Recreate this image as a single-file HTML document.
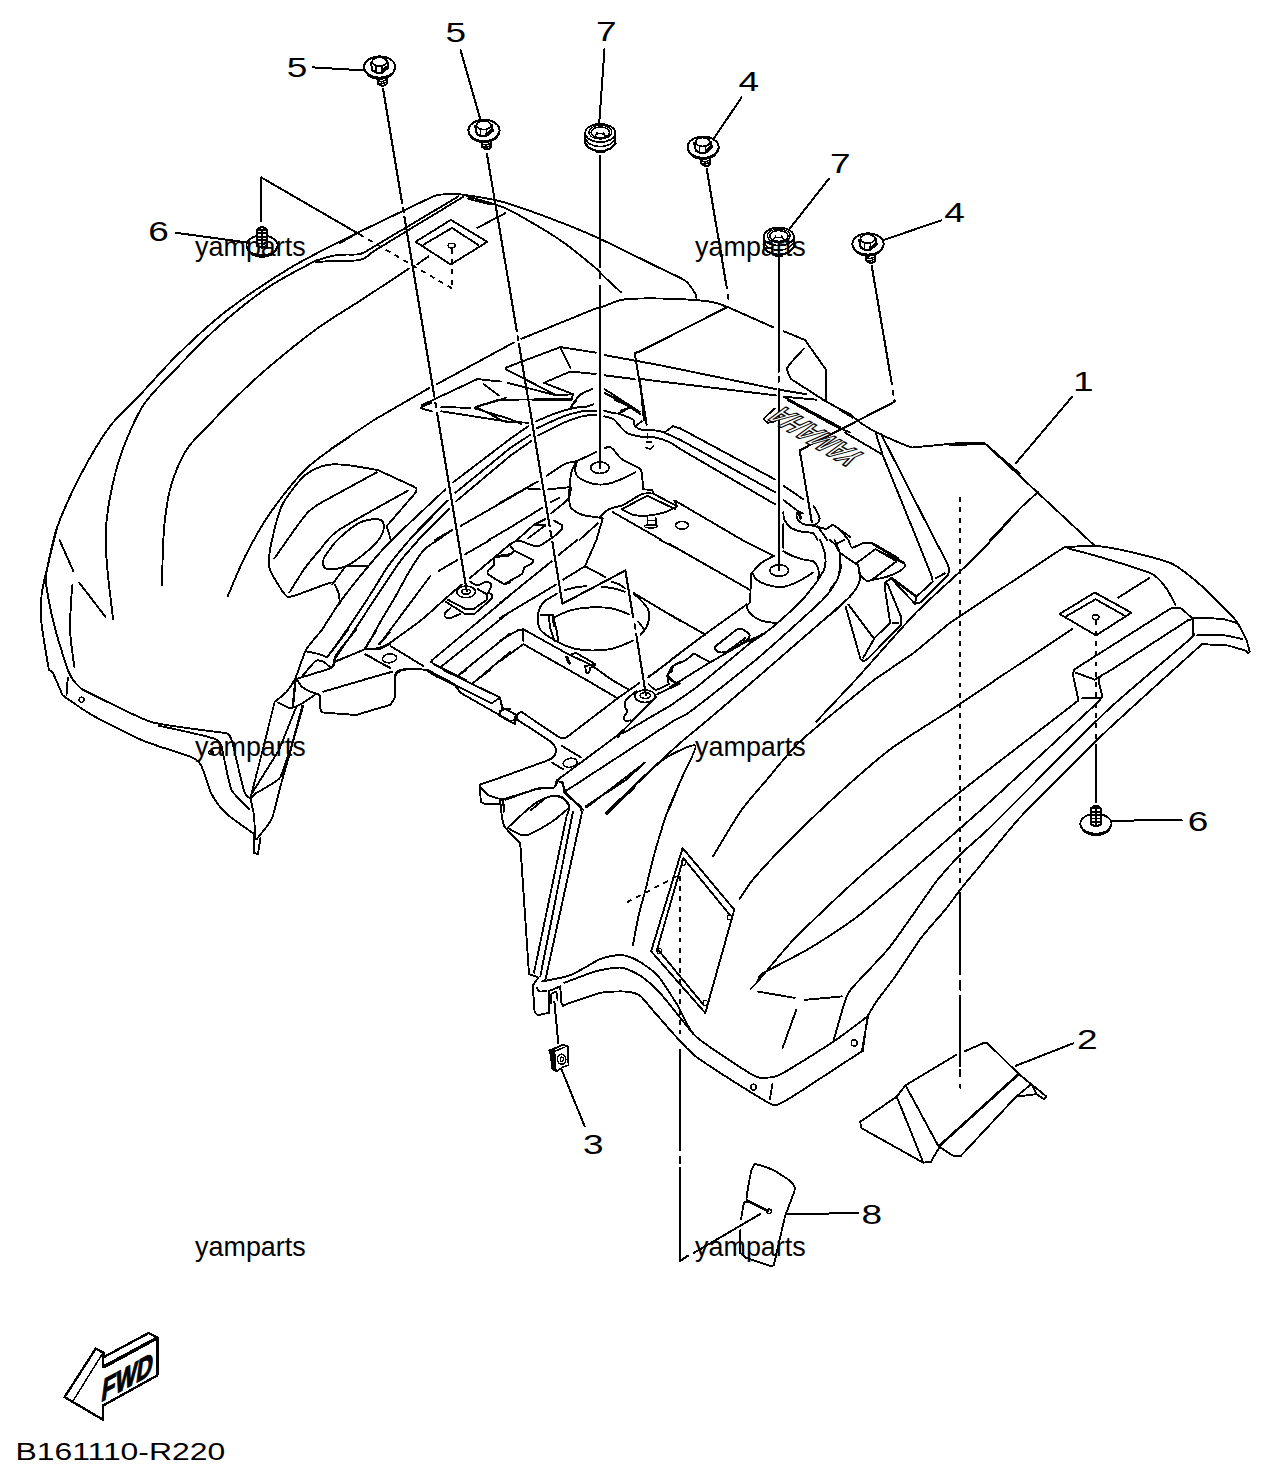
<!DOCTYPE html>
<html><head><meta charset="utf-8"><title>B161110-R220</title>
<style>
html,body{margin:0;padding:0;background:#fff;}
svg{display:block;}
text{font-family:"Liberation Sans",sans-serif;fill:#000;}
</style></head>
<body>
<svg width="1270" height="1483" viewBox="0 0 1270 1483">
<rect width="1270" height="1483" fill="#fff"/>
<g fill="none" stroke="#000" stroke-width="1.9" stroke-linecap="round" stroke-linejoin="round" shape-rendering="crispEdges">
<text transform="matrix(1.3603 0 0 1 286.8 77.3)" font-size="27.2" stroke="none">5</text>
<text transform="matrix(1.3603 0 0 1 445.6 42.2)" font-size="27.2" stroke="none">5</text>
<text transform="matrix(1.3603 0 0 1 596 40.8)" font-size="27.2" stroke="none">7</text>
<text transform="matrix(1.3603 0 0 1 738.5 90.6)" font-size="27.2" stroke="none">4</text>
<text transform="matrix(1.3603 0 0 1 830 172.8)" font-size="27.2" stroke="none">7</text>
<text transform="matrix(1.3603 0 0 1 944.2 221.5)" font-size="27.2" stroke="none">4</text>
<text transform="matrix(1.3603 0 0 1 1073 391)" font-size="27.2" stroke="none">1</text>
<text transform="matrix(1.3603 0 0 1 148.3 241.4)" font-size="27.2" stroke="none">6</text>
<text transform="matrix(1.3603 0 0 1 1187.8 830.6)" font-size="27.2" stroke="none">6</text>
<text transform="matrix(1.3603 0 0 1 1077 1049.2)" font-size="27.2" stroke="none">2</text>
<text transform="matrix(1.3603 0 0 1 861.6 1224.4)" font-size="27.2" stroke="none">8</text>
<text transform="matrix(1.3603 0 0 1 583 1153.8)" font-size="27.2" stroke="none">3</text>
<text transform="matrix(1.3292 0 0 1 15.4 1460.3)" font-size="24" stroke="none">B161110-R220</text>
<path d="M312.8 67.4 L364.2 70.4" stroke-width="2"/>
<path d="M460.6 50.4 L480.4 119.6" stroke-width="2"/>
<path d="M604.5 49.1 L599.2 123.6" stroke-width="2"/>
<path d="M741.5 97.5 L714.3 137.8" stroke-width="2"/>
<path d="M828.9 178.8 L789.9 228.4" stroke-width="2"/>
<path d="M941 220.4 L883.8 240" stroke-width="2"/>
<path d="M1072.2 396.7 L1016 463" stroke-width="2"/>
<path d="M176 232.8 L250.8 243" stroke-width="2"/>
<path d="M1111.7 820.6 L1181.7 820.3" stroke-width="2"/>
<path d="M1073.5 1043.2 L1015.6 1065.9" stroke-width="2"/>
<path d="M857.8 1213.1 L787.3 1214.1" stroke-width="2"/>
<path d="M584.7 1126.4 L560.5 1066.9" stroke-width="2"/>
<ellipse cx="379.7" cy="67" rx="15.6" ry="10.6" fill="#fff" stroke="#000" stroke-width="2.0"/>
<path d="M364.5 68.5 C365.2 69.7 366.2 73.9 368.7 75.6 C371.2 77.3 376 78.9 379.7 78.9 C383.4 78.9 388.2 77.3 390.7 75.6 C393.2 73.9 394.2 69.7 394.9 68.5" stroke-width="1.8"/>
<path d="M370.8 62.8 L372.5 70.6 L376.2 72.6 L381.9 72.8 L388.5 67.4 L387.3 61.4" stroke-width="2.1"/>
<path d="M376.1 66.4 L376.2 72.6" stroke-width="1.6"/>
<path d="M382.1 66.8 L381.9 72.8" stroke-width="1.6"/>
<path d="M383.2 69.8 L386.7 66.4" stroke-width="1.6"/>
<ellipse cx="379.4" cy="61.8" rx="7.2" ry="4.4" fill="#fff" stroke="#000" stroke-width="1.7"/>
<path d="M377.1 77.6 L378.1 83.8 L381.3 85.8 L385.3 85.4 L387.1 83.2 L386.3 76.6" stroke-width="2"/>
<path d="M377.7 80.4 L381.7 81.8 L386.7 79.8" stroke-width="1.5"/>
<path d="M378 83 L381.7 84 L386.9 82" stroke-width="1.5"/>
<ellipse cx="484" cy="130.4" rx="15.6" ry="10.6" fill="#fff" stroke="#000" stroke-width="2.0"/>
<path d="M468.8 131.9 C469.5 133.1 470.5 137.3 473 139 C475.5 140.7 480.3 142.3 484 142.3 C487.7 142.3 492.5 140.7 495 139 C497.5 137.3 498.5 133.1 499.2 131.9" stroke-width="1.8"/>
<path d="M475.1 126.2 L476.8 134 L480.5 136 L486.2 136.2 L492.8 130.8 L491.6 124.8" stroke-width="2.1"/>
<path d="M480.4 129.8 L480.5 136" stroke-width="1.6"/>
<path d="M486.4 130.2 L486.2 136.2" stroke-width="1.6"/>
<path d="M487.5 133.2 L491 129.8" stroke-width="1.6"/>
<ellipse cx="483.7" cy="125.2" rx="7.2" ry="4.4" fill="#fff" stroke="#000" stroke-width="1.7"/>
<path d="M481.4 141 L482.4 147.2 L485.6 149.2 L489.6 148.8 L491.4 146.6 L490.6 140" stroke-width="2"/>
<path d="M482 143.8 L486 145.2 L491 143.2" stroke-width="1.5"/>
<path d="M482.3 146.4 L486 147.4 L491.2 145.4" stroke-width="1.5"/>
<ellipse cx="703.1" cy="147.2" rx="15.6" ry="10.6" fill="#fff" stroke="#000" stroke-width="2.0"/>
<path d="M687.9 148.7 C688.6 149.9 689.6 154.1 692.1 155.8 C694.6 157.5 699.4 159.1 703.1 159.1 C706.8 159.1 711.6 157.5 714.1 155.8 C716.6 154.1 717.6 149.9 718.3 148.7" stroke-width="1.8"/>
<path d="M694.2 143 L695.9 150.8 L699.6 152.8 L705.3 153 L711.9 147.6 L710.7 141.6" stroke-width="2.1"/>
<path d="M699.5 146.6 L699.6 152.8" stroke-width="1.6"/>
<path d="M705.5 147 L705.3 153" stroke-width="1.6"/>
<path d="M706.6 150 L710.1 146.6" stroke-width="1.6"/>
<ellipse cx="702.8" cy="142" rx="7.2" ry="4.4" fill="#fff" stroke="#000" stroke-width="1.7"/>
<path d="M700.5 157.8 L701.5 164 L704.7 166 L708.7 165.6 L710.5 163.4 L709.7 156.8" stroke-width="2"/>
<path d="M701.1 160.6 L705.1 162 L710.1 160" stroke-width="1.5"/>
<path d="M701.4 163.2 L705.1 164.2 L710.3 162.2" stroke-width="1.5"/>
<ellipse cx="868" cy="244" rx="15.6" ry="10.6" fill="#fff" stroke="#000" stroke-width="2.0"/>
<path d="M852.8 245.5 C853.5 246.7 854.5 250.9 857 252.6 C859.5 254.3 864.3 255.9 868 255.9 C871.7 255.9 876.5 254.3 879 252.6 C881.5 250.9 882.5 246.7 883.2 245.5" stroke-width="1.8"/>
<path d="M859.1 239.8 L860.8 247.6 L864.5 249.6 L870.2 249.8 L876.8 244.4 L875.6 238.4" stroke-width="2.1"/>
<path d="M864.4 243.4 L864.5 249.6" stroke-width="1.6"/>
<path d="M870.4 243.8 L870.2 249.8" stroke-width="1.6"/>
<path d="M871.5 246.8 L875 243.4" stroke-width="1.6"/>
<ellipse cx="867.7" cy="238.8" rx="7.2" ry="4.4" fill="#fff" stroke="#000" stroke-width="1.7"/>
<path d="M865.4 254.6 L866.4 260.8 L869.6 262.8 L873.6 262.4 L875.4 260.2 L874.6 253.6" stroke-width="2"/>
<path d="M866 257.4 L870 258.8 L875 256.8" stroke-width="1.5"/>
<path d="M866.3 260 L870 261 L875.2 259" stroke-width="1.5"/>
<path d="M585.2 133 L585.2 143.4" stroke-width="2"/>
<path d="M615.4 133 L615.4 143.4" stroke-width="2"/>
<path d="M585.2 143.4 C586 144.3 587.8 147.3 590.3 148.6 C592.8 149.9 597 151.2 600.3 151.2 C603.6 151.2 607.8 149.9 610.3 148.6 C612.8 147.3 614.5 144.3 615.4 143.4" stroke-width="2.2"/>
<path d="M585.2 138.6 C586 139.5 587.8 142.9 590.3 144.2 C592.8 145.5 597 146.6 600.3 146.6 C603.6 146.6 607.8 145.5 610.3 144.2 C612.8 142.9 614.5 139.5 615.4 138.6" stroke-width="1.6"/>
<path d="M596.7 150.6 L596.9 152.4 L603.7 152.4 L603.9 150.6" stroke-width="1.7"/>
<ellipse cx="600.3" cy="133" rx="15.1" ry="9.1" fill="#fff" stroke="#000" stroke-width="1.8"/>
<ellipse cx="600.3" cy="132.2" rx="11.4" ry="6.9" fill="none" stroke="#000" stroke-width="1.2"/>
<ellipse cx="600.3" cy="132.4" rx="9.2" ry="5.4" fill="none" stroke="#000" stroke-width="1.5"/>
<ellipse cx="600" cy="136" rx="4.9" ry="2.4" fill="none" stroke="#000" stroke-width="1.4"/>
<path d="M595.3 135.6 L597.1 132.4" stroke-width="1.4"/>
<path d="M604.9 135.6 L603.3 132.4" stroke-width="1.4"/>
<path d="M763.7 236.6 L763.7 247" stroke-width="2"/>
<path d="M793.9 236.6 L793.9 247" stroke-width="2"/>
<path d="M763.7 247 C764.5 247.9 766.3 250.9 768.8 252.2 C771.3 253.5 775.5 254.8 778.8 254.8 C782.1 254.8 786.3 253.5 788.8 252.2 C791.3 250.9 793 247.9 793.9 247" stroke-width="2.2"/>
<path d="M763.7 242.2 C764.5 243.1 766.3 246.5 768.8 247.8 C771.3 249.1 775.5 250.2 778.8 250.2 C782.1 250.2 786.3 249.1 788.8 247.8 C791.3 246.5 793 243.1 793.9 242.2" stroke-width="1.6"/>
<path d="M775.2 254.2 L775.4 256 L782.2 256 L782.4 254.2" stroke-width="1.7"/>
<ellipse cx="778.8" cy="236.6" rx="15.1" ry="9.1" fill="#fff" stroke="#000" stroke-width="1.8"/>
<ellipse cx="778.8" cy="235.8" rx="11.4" ry="6.9" fill="none" stroke="#000" stroke-width="1.2"/>
<ellipse cx="778.8" cy="236" rx="9.2" ry="5.4" fill="none" stroke="#000" stroke-width="1.5"/>
<ellipse cx="778.5" cy="239.6" rx="4.9" ry="2.4" fill="none" stroke="#000" stroke-width="1.4"/>
<path d="M773.8 239.2 L775.6 236" stroke-width="1.4"/>
<path d="M783.4 239.2 L781.8 236" stroke-width="1.4"/>
<ellipse cx="262" cy="245.4" rx="15.6" ry="10" fill="#fff" stroke="#000" stroke-width="1.8"/>
<path d="M246.8 247 C247.5 248.1 248.5 252 251 253.6 C253.5 255.2 258.3 256.8 262 256.8 C265.7 256.8 270.5 255.2 273 253.6 C275.5 252 276.5 248.1 277.2 247" stroke-width="2"/>
<path d="M257.2 245.9 L257.2 229.9 Q262 224.4 266.8 229.9 L266.8 245.9 Q262 249.4 257.2 245.9Z" fill="#fff" stroke="#000" stroke-width="2.2"/>
<path d="M258.4 229.9 L265.6 229.9"/>
<path d="M258.4 233.3 L265.6 233.3"/>
<path d="M258.4 236.7 L265.6 236.7"/>
<path d="M258.4 240.1 L265.6 240.1"/>
<path d="M258.4 243.5 L265.6 243.5"/>
<path d="M262 231.4 L262 246.4" stroke-width="1.6"/>
<ellipse cx="1095.9" cy="823.8" rx="15.6" ry="10" fill="#fff" stroke="#000" stroke-width="1.8"/>
<path d="M1080.7 825.4 C1081.4 826.5 1082.4 830.4 1084.9 832 C1087.4 833.6 1092.2 835.2 1095.9 835.2 C1099.6 835.2 1104.4 833.6 1106.9 832 C1109.4 830.4 1110.4 826.5 1111.1 825.4" stroke-width="2"/>
<path d="M1091.1 824.3 L1091.1 808.3 Q1095.9 802.8 1100.7 808.3 L1100.7 824.3 Q1095.9 827.8 1091.1 824.3Z" fill="#fff" stroke="#000" stroke-width="2.2"/>
<path d="M1092.3 808.3 L1099.5 808.3"/>
<path d="M1092.3 811.7 L1099.5 811.7"/>
<path d="M1092.3 815.1 L1099.5 815.1"/>
<path d="M1092.3 818.5 L1099.5 818.5"/>
<path d="M1092.3 821.9 L1099.5 821.9"/>
<path d="M1095.9 809.8 L1095.9 824.8" stroke-width="1.6"/>
<path d="M383 88.5 L402.2 203.5" stroke-width="2.1"/>
<path d="M402.9 208 L403.6 212" stroke-width="2.1"/>
<path d="M404.4 217 L434.4 397" stroke-width="2.1"/>
<path d="M435.4 403 L436.1 407" stroke-width="2.1"/>
<path d="M437.1 413 L466.8 591" stroke-width="2.1"/>
<path d="M486.9 153.7 L516.8 331" stroke-width="2.1"/>
<path d="M517.6 336 L518.3 340" stroke-width="2.1"/>
<path d="M518.9 344 L549.6 526" stroke-width="2.1"/>
<path d="M550.4 531 L551.3 536" stroke-width="2.1"/>
<path d="M600.2 156 L600.2 267" stroke-width="2.4"/>
<path d="M600.2 273 L600.2 278" stroke-width="2.4"/>
<path d="M600.2 286 L600.2 468" stroke-width="2.4"/>
<path d="M261.2 221.5 L261.2 177.4 L359.5 234.3" stroke-width="2"/>
<path d="M359.5 234.3 L452 288.4" stroke-width="1.8" stroke-dasharray="5 5.2" stroke-linecap="butt"/>
<path d="M451.6 249 L451.6 288.4" stroke-width="1.8" stroke-dasharray="5 5.2" stroke-linecap="butt"/>
<path d="M360 231.6 C348.6 237.5 314.2 253.7 291.9 266.9 C269.6 280.1 245.3 296.5 226.4 311 C207.5 325.5 192.8 339.9 178.5 353.8 C164.2 367.7 152.3 381.9 140.8 394.1 C129.3 406.3 119.6 413.4 109.5 427 C99.4 440.6 89 458.9 80.4 475.4 C71.8 491.9 63.2 510.7 57.7 525.8 C52.2 540.9 50.3 554.6 47.6 566.1 C44.9 577.6 42.7 585.8 41.6 595 C40.5 604.2 40.1 609 41.3 621.5 C42.5 634 47.6 661.9 48.9 670"/>
<path d="M315.8 260.6 C307.6 265.2 283.3 277 266.7 288.3 C250.1 299.6 232.2 314.3 216.3 328.6 C200.4 342.9 182.8 361.8 171 374 C159.2 386.2 152.3 392.9 145.8 401.7 C139.3 410.5 136.6 416.8 132 427 C127.4 437.2 122.2 449.3 118.2 462.8 C114.2 476.3 110.2 495.2 108.1 508.2 C106 521.2 105.6 529.6 105.6 540.9 C105.6 552.2 106.8 563.2 108.1 576.2 C109.3 589.2 112.3 611.9 113.1 619"/>
<path d="M360 300.9 C352.9 305.5 332.7 317.3 317.1 328.6 C301.6 339.9 281 356.7 266.7 368.9 C252.4 381.1 241 392.3 231.4 401.7 C221.8 411.1 216.5 416.9 209 425 C201.5 433.1 192.5 440.1 186.2 450.2 C179.9 460.3 174.7 473.7 171.1 485.5 C167.5 497.3 166.2 509 164.8 520.8 C163.4 532.5 163.1 545.3 162.7 556 C162.3 566.7 162.3 580.2 162.2 585"/>
<path d="M340 243 L360 231.6 L430 197.9"/>
<path d="M430 197.9 C430.9 197.5 434.7 195.7 437 195.2 C439.3 194.7 443.8 194.3 447 194.2 C450.2 194.1 453.7 193.4 460.9 194.4 C468.1 195.4 489.5 198.4 501.2 201.5 C512.9 204.6 536.2 213.1 549 217.9 C561.8 222.7 582.2 230.8 597 237.5 C611.8 244.2 648.2 262.4 660 268.2 C671.8 274 680.6 277.4 685.3 280.8 C690 284.2 693.9 291.4 695.4 294 C696.9 296.6 696.5 299.6 696.7 300.5"/>
<path d="M315.8 260.6 C319.4 259.7 330.2 256 337.2 255 C344.2 254 352.8 255 357.6 254.4 C362.4 253.8 362.6 253.2 366 251.5 C369.4 249.8 362.4 253.5 377.8 244.3 C393.2 235.1 445 204.4 458.4 196.4"/>
<path d="M315.8 262 C319.5 261.8 330.8 261.1 338 260.8 C345.2 260.5 353.9 261 358.9 260.2 C363.9 259.4 364.6 258 368 256 C371.4 254 363.1 257.9 379 248 C394.9 238.1 449.3 205.3 463.4 196.8"/>
<path d="M467.2 196.4 C472.9 198.1 492.2 203.1 501.2 206.5 C510.2 209.9 511.6 211 521.4 216.6 C531.2 222.2 547.8 231.6 560 240 C572.2 248.4 587.2 261 594.4 267 C601.6 273 598.8 271.6 603.2 275.8 C607.6 280 618 289.5 620.9 292.2"/>
<path d="M467.5 198.6 L491 204.6" stroke-width="1.7"/>
<path d="M360 300.9 L408.8 268.7"/>
<path d="M417.1 264.4 L428.5 256.5"/>
<path d="M477.3 227.9 L505 213.3"/>
<path d="M415.6 241.8 L450.8 219.9 L487.4 241.8 L450.8 264.5Z"/>
<path d="M423.6 244.6 L452.1 227.9 L478.5 245.2"/>
<ellipse cx="451.6" cy="245.6" rx="3.5" ry="2.4" fill="none" stroke="#000" stroke-width="1.4"/>
<path d="M604.5 306 L595.7 308.5 L521.4 338.8"/>
<path d="M513.8 342.5 L437 384.1"/>
<path d="M429.4 387.9 L374 420 L340 442.7"/>
<path d="M595.7 308.5 C597.2 308.1 599.7 307.5 604.5 306 C609.3 304.5 615.4 300.6 624.6 299.4 C633.9 298.1 649 298.4 660 298.5 C671 298.6 681.6 299.1 690.4 299.7 C699.2 300.3 706.7 300.9 713 302.2 C719.3 303.5 725.7 306.4 728.2 307.3"/>
<path d="M57.7 525.8 C57.1 528.3 55.7 533.3 53.9 540.9 C52.1 548.5 48 563.5 46.8 571.1 C45.5 578.7 45 576.5 46.4 586.2 C47.8 595.9 51.6 615.1 55.2 629.1 C58.8 643.1 65.7 663.2 67.8 670"/>
<path d="M59.7 540.4 L73.3 571.1"/>
<path d="M79.1 582.5 L105.6 617"/>
<path d="M72.3 585 C72 589.2 70.9 601.8 70.6 610 C70.3 618.2 69.7 624.8 70.3 634.1 C70.9 643.4 73.5 660.4 74.1 665.6"/>
<path d="M350 436.4 C342.9 441.6 320.1 455.5 307.1 467.9 C294.1 480.3 281.9 496.4 271.8 510.7 C261.7 525 253.9 539.2 246.6 553.5 C239.2 567.8 230.8 589.2 227.7 596.3"/>
<path d="M340 442.7 L330 449.6"/>
<path d="M431.3 402.6 C430.4 403.1 422.8 406.6 421.8 407.2 C420.8 407.8 420.4 408 421.4 408.4 C422.4 408.8 430.9 411 432 411.3"/>
<path d="M441.3 407.1 L470.3 407.8"/>
<path d="M441.3 411.3 L510 422 L528.3 422.7"/>
<path d="M475.3 407.1 L500.1 400 L506.2 397.5"/>
<path d="M475.3 408.5 L510 419.1 L521.3 424.1"/>
<path d="M378.2 470.2 L413.6 486.5"/>
<path d="M413.6 486.5 C414 486.8 416.1 487.9 416.4 488.6 C416.7 489.3 416.6 490.6 416.2 491.5 C415.8 492.4 413.9 494.5 413.6 495"/>
<path d="M413.6 495 L386.7 526.1"/>
<path d="M386.7 526.1 C387 527.1 388 529.9 388.6 532 C389.2 534.1 390.1 537.8 390.4 539"/>
<path d="M330 497.8 L376.8 472.3"/>
<path d="M407.9 490.7 C398.7 495.9 350.6 522.1 338.9 530 C327.2 537.9 324.5 544.7 320 549.8 C315.5 554.9 309.1 562.3 305 568 C300.9 573.7 291.5 589.2 289.4 592.5"/>
<path d="M329.5 549.8 C331.9 546.5 333.7 543.3 338.5 538.9 C343.3 534.5 352.6 526.6 358.3 523.3 C364 520 368.7 519.8 372.5 519.3 C376.3 518.8 379.1 519.1 381 520.2 C382.9 521.3 383.8 523.5 383.9 526.1 C384 528.7 383.2 532.4 381.4 535.7 C379.6 539 376.5 542.5 372.9 546.1 C369.3 549.7 363.8 554.2 359.7 557.4 C355.6 560.5 352.2 563.1 348.4 565 C344.6 566.9 340.6 568.2 337 568.8 C333.4 569.4 328.9 569.4 326.6 568.8 C324.3 568.2 323.8 566.7 323.3 565 C322.8 563.3 322.8 560.9 323.8 558.4 C324.8 555.9 327.1 553 329.5 549.8Z"/>
<path d="M445.5 489.3 C440.1 494.4 399.4 532.3 391.7 540 C384 547.7 373.3 560.3 368.2 566.4 C363.1 572.5 344.6 595.8 340.8 600.9 C337 606 331.1 615.6 330 617.2"/>
<path d="M409.4 540 L447.6 500.6"/>
<path d="M417.9 540 L449 509.1"/>
<path d="M453.3 482.2 L510 439 L528.3 426.2"/>
<path d="M455.4 492.8 L510 448.2 L530.5 434.7"/>
<path d="M456.1 501.3 L510 456 L531.2 441.1"/>
<path d="M460.4 526.1 L510 497.8 L537.6 481.5"/>
<path d="M434.9 540 L452.6 529.7"/>
<path d="M488.7 540 L510 527.6 L542.5 507.7"/>
<path d="M533.3 400.3 L570.9 400.3" stroke-width="2.2"/>
<path d="M570.9 407.1 L576.5 400"/>
<path d="M536.1 421.3 C539.5 419.9 550.2 415.1 556.7 412.8 C563.2 410.6 570.4 408.8 575.1 407.8 C579.8 406.9 581.9 407.7 585 407.1 C588.1 406.5 592.1 404.8 593.5 404.3"/>
<path d="M536.8 428.3 C541.3 426.3 556.2 419.1 563.8 416.3 C571.4 413.5 576.8 412.2 582.2 411.3 C587.6 410.4 594 410.7 596.4 410.6"/>
<path d="M538.3 435.4 C542.5 433.3 556.5 425.9 563.8 422.7 C571.1 419.5 576.8 417.6 582.2 416.3 C587.6 415 594 415.1 596.4 414.9"/>
<path d="M604.2 410.6 C606.4 411.1 613.7 413.9 617.6 413.5 C621.5 413.1 625.9 409.3 627.6 408.5"/>
<path d="M604.2 416.3 C605.7 416.8 610.7 417.3 613.4 419.1 C616.1 420.9 618.1 424.5 620.5 426.9 C622.9 429.3 624.1 431.6 627.6 433.3 C631.1 435 637 436.1 641.7 436.8 C646.4 437.5 651.2 436.7 655.9 437.6 C660.6 438.6 666.1 440.6 670.1 442.5 C674.1 444.4 678.4 447.8 680 448.9"/>
<path d="M617.6 413.5 C619.3 414.1 625 415.9 627.6 417 C630.2 418.1 632 418.4 633.2 419.8 C634.4 421.2 633.2 423.8 634.6 425.5 C636 427.2 638.2 429 641.7 429.8 C645.2 430.6 652.1 430 655.9 430.5 C659.7 431 663 432.2 664.4 432.6"/>
<path d="M664.4 432.6 L672.9 426.2 L680 428.3"/>
<path d="M664.4 432.6 L680 439.7"/>
<path d="M641.7 400 L646.7 424.8"/>
<path d="M647.4 434 L647.4 438.5" stroke-width="1.6"/>
<path d="M646.5 441.8 L651.6 441.8" stroke-width="1.6"/>
<path d="M646 447.5 C646.7 447.7 648.9 449.1 650.2 448.9 C651.5 448.6 653.2 446.5 653.8 446" stroke-width="1.6"/>
<path d="M614.8 400 C616.9 400.9 624 403.8 627.6 405.7 C631.2 407.6 634 409.9 636.1 411.3 C638.2 412.7 639.6 413.7 640.3 414.2"/>
<path d="M620.5 410.6 L629 407.8"/>
<path d="M635.3 426.2 L641.7 421.3"/>
<ellipse cx="599.9" cy="467.7" rx="9.2" ry="5.7" fill="none" stroke="#000" stroke-width="1.7"/>
<path d="M577.2 460.9 C576.9 462.6 574.7 468 575.1 470.9 C575.5 473.8 576.6 475.9 579.4 478 C582.2 480.1 587.9 482.6 592.1 483.6 C596.4 484.7 600.6 484.8 604.9 484.3 C609.1 483.8 612.5 482.8 617.6 480.8 C622.7 478.8 632.3 473.7 635.3 472.3"/>
<path d="M577.2 460.9 C576.4 462.3 573.5 466.3 572.3 469.4 C571.1 472.5 570.7 474 570.2 479.4 C569.7 484.8 569 497.1 569.4 502 C569.8 506.9 570.2 507 572.3 509.1 C574.4 511.2 577.7 513.4 582.2 514.8 C586.7 516.2 596.4 517.1 599.2 517.6"/>
<path d="M604.9 448.2 C605.5 448 608 446.6 609.1 446.8 C610.2 447 611.9 448.1 613.4 449.6 C614.9 451.1 618.2 456.2 620.5 458.1 C622.8 460 627.9 462.5 630.4 463.8 C632.9 465.1 637.4 466.9 638.9 468 C640.4 469.1 641.1 469.5 641.7 472.3 C642.3 475.1 642.9 487 643.1 489.3"/>
<path d="M643.1 489.3 L652.4 490 L652.8 493.5"/>
<path d="M546.8 475.8 C549.3 474.2 561.1 465.8 565.2 463.8 C569.3 461.8 573 462.5 577.2 460.9 C581.4 459.3 593.8 452.9 596.4 451.7"/>
<path d="M599.2 517.6 C600.5 516.5 605.9 510.8 609.1 509.1 C612.3 507.4 619 506.9 623.3 504.9 C627.6 502.9 637.8 495.7 641.7 494.2 C645.6 492.7 651.3 493.6 652.8 493.5"/>
<path d="M599.2 517.6 L602.8 518.3 L596.4 540"/>
<path d="M612.7 512 L661.6 540"/>
<path d="M621.9 509.1 L647.4 495.7 L675 509.1"/>
<path d="M621.9 509.1 C623.8 510.1 628.7 513.7 633.2 514.8 C637.7 515.9 643.4 516 648.8 515.5 C654.2 515 661.1 513.5 665.8 512 C670.5 510.5 675.3 507.2 677.2 506.3"/>
<path d="M674.3 500.6 L677.2 506.3"/>
<path d="M652.8 493.5 L675 505"/>
<path d="M647.5 518 L647.5 525 L655.8 525 L655.8 518" stroke-width="1.7"/>
<ellipse cx="651" cy="526.3" rx="6.3" ry="1.8" fill="none" stroke="#000" stroke-width="1.3"/>
<path d="M647.5 520.5 L655.8 520.5" stroke-width="1.5"/>
<path d="M528.3 488.6 L539.7 489.3"/>
<path d="M548.2 489.3 L569.4 487.2"/>
<path d="M500 502.8 L537.6 481.5"/>
<path d="M551 502 L559.5 497.8"/>
<path d="M551 513.4 C553.3 511.5 565.3 502.6 568 499.2 C570.7 495.8 570.5 489.4 570.9 487.9"/>
<path d="M517 540 L534 524.7 L545.4 519"/>
<path d="M528.3 538.2 L545.4 525.4"/>
<path d="M534 524.7 L545.4 525.4"/>
<path d="M553.9 520.5 L562.4 525.4 L562.4 529 L555.3 535.4"/>
<path d="M579.4 540 L597.8 523.3"/>
<path d="M347.4 565.9 L368.2 566.4"/>
<path d="M345.5 566.4 L332.3 584.3"/>
<path d="M335.1 584.8 C335.7 586.4 338.1 591.1 338.9 594.3 C339.7 597.4 339.6 602.1 339.8 603.7"/>
<path d="M447.6 500.6 C444.2 504 425.1 522.5 418.3 530 C411.5 537.5 394.3 557.9 389 565 C383.7 572.1 377.4 583.5 372.9 590.5 C368.4 597.5 355.2 617.7 350.2 625 C345.2 632.3 332.4 650.1 330 653.4"/>
<path d="M449 509.1 C446.5 511.5 433.5 523.9 427.8 530 C422.1 536.1 405.8 554.1 400.3 561.2 C394.8 568.3 385.5 583.1 380.5 590.5 C375.5 597.9 363 617.2 357.8 625 C352.6 632.8 338.3 653.8 335.7 657.6"/>
<path d="M452.6 529.7 C451.1 530.7 443.3 536.2 440 538.5 C436.7 540.8 427.5 546.1 424 549.8 C420.5 553.5 413.1 565.2 409.8 570.6 C406.5 576 399.2 589.9 395.6 596.2 C392 602.5 382.1 618.8 378.6 625 C375.1 631.2 366.9 646.3 365.4 649.1"/>
<path d="M430.1 576.3 L379.6 644.2"/>
<path d="M461.8 584.6 C459.9 586.2 452.9 592.1 447.6 596.7 C442.3 601.3 428.3 614.3 422.1 619.4 C415.9 624.5 405.6 631.6 400.9 635 C396.2 638.4 390.1 643.1 386.7 644.9 C383.3 646.7 378.2 648.2 375.4 648.8 C372.6 649.4 366.7 649.1 365.4 649.1"/>
<path d="M365.4 649.1 L335.7 661.2"/>
<path d="M335.7 657.6 C335.4 658.7 334.9 662.2 334 664 C333.1 665.8 330.7 667.6 330 668.3"/>
<ellipse cx="466.1" cy="591.7" rx="4.3" ry="2.4" fill="none" stroke="#000" stroke-width="1.6"/>
<ellipse cx="466.1" cy="591.9" rx="9.4" ry="5.8" fill="none" stroke="#000" stroke-width="1.6"/>
<path d="M447.6 599.5 L466.1 609.4 L473.1 609.4 L487.3 599.5 L487.3 594.6 L477.4 588.9"/>
<path d="M445.5 601.6 L464.6 613.7 L474.6 613.7 L491.6 598.8 L491.6 594.6 L488.5 592.6"/>
<path d="M470.3 581.8 C471.1 582.2 475.6 585.4 477.4 585.4 C479.2 585.4 484.3 582 485.9 581.8 C487.5 581.6 490.4 583.1 490.9 583.9 C491.4 584.7 490.6 587.7 490.2 588.9 C489.8 590.1 487.6 593.2 487.3 593.8"/>
<path d="M450.5 608 C449.8 608.7 445.4 612.6 444.8 613.7 C444.2 614.8 444.8 616.7 445.5 617.2 C446.2 617.7 448.8 618.4 450.5 618 C452.2 617.6 459.2 614.2 460.4 613.7"/>
<path d="M438.4 571.2 L457.6 559.8"/>
<path d="M465.3 554.2 L490.2 540"/>
<path d="M469.6 578.3 L510 544.3"/>
<path d="M510 554.2 C508.7 554.4 495.8 556.1 494.4 557 C493 557.9 494.2 564.4 493.7 565.5 C493.2 566.6 488.4 569.7 488 570.5 C487.6 571.3 487.3 573.6 488.7 574.7 C490.1 575.8 502.5 583.4 504.3 584 C506.1 584.6 509.5 582.6 510 582.5"/>
<ellipse cx="389.5" cy="658.3" rx="7.1" ry="4.4" fill="none" stroke="#000" stroke-width="1.6" transform="rotate(-8 389.5 658.3)"/>
<path d="M365.4 654.1 L390.2 668.3"/>
<path d="M390.9 646.3 L423.5 666.1"/>
<path d="M362.6 680 L392.4 671.8"/>
<path d="M394.5 680 C394.8 678.9 394.6 673.3 396.6 671.8 C398.6 670.3 405.2 668.9 409.4 668.7 C413.6 668.5 424.2 669.4 427.8 670.4 C431.4 671.4 433.8 674.7 436.3 676 C438.8 677.3 444.9 679.5 446.2 680"/>
<path d="M427.8 670.4 L436.3 676 L446.2 680" stroke-width="2.8"/>
<path d="M510 595.3 C504.9 599.5 439.2 654.1 434 658.5 C428.8 662.9 431.8 661.6 431.8 662 C431.8 662.4 432.2 663.3 434.5 664.5 C436.8 665.7 463.9 679 466 680"/>
<path d="M442 666.1 L510 611.6"/>
<path d="M459 674.6 L510 633.5"/>
<path d="M476.7 680 L510 652"/>
<path d="M552.4 542.1 L562.4 603.8 L625.4 570.5 L633.2 617.2" stroke-width="2.1"/>
<path d="M634.6 624 L635.3 628.5" stroke-width="2.1"/>
<path d="M636.1 633.5 L646 695.5" stroke-width="2.1"/>
<path d="M494.4 557 C495.8 556.9 506.5 556.2 508.5 555.6 C510.5 555 513.6 551.1 514.2 550.6"/>
<path d="M514.2 550.6 C516 551.5 530.8 558.5 532.6 559.8 C534.4 561.1 532.8 562.6 531.9 563.4 C531 564.2 525.1 566.5 524.1 567.6 C523.1 568.7 524 572.4 522 574 C520 575.6 506.1 582.9 504.3 583.9"/>
<path d="M514.2 550.6 C513.8 550 509.5 546 509.9 545 C510.3 544 515.7 540.6 518.4 540.7 C521.1 540.8 534 546.3 536.8 546.4 C539.6 546.5 544.9 542.5 546.8 541.4 C548.6 540.3 554.4 536 555.3 535.4"/>
<path d="M558.8 554.9 L577.2 540"/>
<path d="M500 603.1 L551.7 561.3"/>
<path d="M500 618 L556 584.6"/>
<path d="M563.1 579.7 L585 566.2 L604.9 576.8"/>
<path d="M585 566.2 L596.4 540"/>
<path d="M564.5 590.3 C566.2 589.8 571.3 588.2 575 587.5 C578.7 586.8 584.6 586.3 586.5 586.1"/>
<path d="M602 586.8 C604 587.1 610.2 587.6 614 588.4 C617.8 589.2 622.9 591.2 624.7 591.7"/>
<path d="M612 581.8 C613.2 582.2 616.9 583.1 619 584.2 C621.1 585.3 623.8 587.5 624.7 588.2"/>
<path d="M556.7 593.9 C554.9 595 547.5 598.9 545 601 C542.5 603.1 540.8 605.2 539.7 608 C538.6 610.8 537.4 616 537.6 619.4 C537.8 622.8 538.2 627.4 541.1 630.7 C544 634 551.8 638.6 556.7 641.3 C561.6 644 568.4 647 573.7 648.4 C579 649.8 586.1 650.5 592.1 650.5 C598.1 650.5 607.2 649.9 613.4 648.4 C619.6 646.9 630.2 641.8 633.2 640.6"/>
<path d="M633.9 593.1 C635.9 595.3 645.2 604.1 647.4 608 C649.6 611.9 649 616.4 648.8 619.4 C648.6 622.4 647.3 625.6 646 627.9 C644.7 630.2 641.2 633.9 640.3 635"/>
<path d="M554.6 617.2 C557 616.2 565.3 611.7 570.9 610.2 C576.5 608.7 585.7 607.5 592.1 607.3 C598.5 607.1 607.9 607.6 613.4 608.7 C618.9 609.8 626.7 613.5 629 614.4"/>
<path d="M541.1 615.1 L553.1 615.1"/>
<path d="M548.9 615.1 C549.1 617.2 549.3 623.5 550.3 627.9 C551.2 632.3 553.9 639.1 554.6 641.3"/>
<path d="M553.1 617.2 C553.7 619.5 555.9 626.7 556.7 630.7 C557.5 634.7 557.9 639.5 558.1 641.3"/>
<path d="M553.2 617.5 L554.6 626" stroke-width="3"/>
<path d="M638.2 621.5 L644.6 630"/>
<path d="M633.9 593.1 L680 620.8"/>
<path d="M634.5 594.2 L640 598" stroke-width="2.8"/>
<path d="M660.1 540 L680 549.9"/>
<path d="M500 640.6 L518.4 630 L523.4 629.3 L568 654.1 L590.7 664.7 L612 680"/>
<path d="M523.4 629.3 L523.4 641.3"/>
<path d="M500 661.2 L523.4 644.2 L586.5 680"/>
<path d="M566.8 657.2 L569.2 663" stroke-width="3.2"/>
<path d="M570.9 654.8 C571.5 654.7 574.1 652.5 576.5 653.4 C578.9 654.3 593.1 662.9 595 664"/>
<path d="M595 664 L585 666.1 L586.5 673.2 L589.3 672.5 L590 668.3 L595 665.3"/>
<path d="M648.1 677.5 L680 653.4"/>
<path d="M667.2 676 C667.9 674.6 669.4 670 671.5 667.6 C673.6 665.2 678.6 662.9 680 661.9"/>
<path d="M378.2 470.2 C374.2 469.5 354.8 465.9 348.4 465.2 C342 464.5 334.3 464.2 330 464.6 C325.7 465 319.7 466.7 316 468.5 C312.3 470.3 306.5 473.1 302 478 C297.5 482.9 285.9 497.2 281.9 505.6 C277.9 514 273.5 533.2 271.8 540.9 C270.1 548.6 268.8 559.2 268.8 563.6 C268.8 568 269.7 569.7 271.8 573.7 C273.9 577.7 281.7 590.8 284.4 593.8 C287.1 596.8 286.3 597.6 292 596.3 C297.7 595 321.8 585.5 327.2 583.7 C332.6 581.9 331.5 582.7 332.2 582.5"/>
<path d="M274.3 558.5 C278.7 552.5 299.7 521.3 307.1 513.2 C314.5 505.1 326.9 499.9 330 497.8"/>
<path d="M48.9 670 C49.3 670.3 51.3 670.2 52.7 672.7 C54.1 675.2 61.7 693.1 62.7 695.4"/>
<path d="M62.7 695.4 C66.2 697.8 83.6 710.3 93 715.6 C102.4 720.9 131.9 736 143.4 740.8 C154.9 745.6 184.4 754.2 191.2 757.1 C198 760 198.9 761.6 201.3 765.9 C203.7 770.2 208.5 788.1 211.4 793.7 C214.3 799.3 221.5 809.1 226.5 813.8 C231.5 818.5 251 831.6 254.2 834"/>
<path d="M254.2 834 L253.7 852.8 L258 854.1 L260.5 837.7"/>
<path d="M67.8 670 C68.3 671 71.6 678.1 73 680 C74.4 681.9 80.7 688.2 81.6 689.1"/>
<path d="M81.6 689.1 C87.4 691.8 138.8 718.2 150.9 721.9 C163 725.6 220.2 732.3 226.5 733.2"/>
<path d="M226.5 733.2 C227 733.8 229.7 733.7 231.5 739.5 C233.3 745.3 242.2 785.2 244.1 791.1 C246 797 249.8 797.9 250.4 798.7"/>
<path d="M74.1 665.6 L74.6 667"/>
<path d="M67.8 677.8 L66.5 695.4"/>
<ellipse cx="81.6" cy="699.7" rx="2.6" ry="2.6" fill="none" stroke="#000" stroke-width="1.3"/>
<path d="M158.5 725.6 C164.3 727 209.8 736.2 216.4 739.5 C223 742.8 222.5 753.4 224 758.4 C225.5 763.4 229 784.9 231.5 789.9 C234 794.9 247.3 806.9 249.1 808.8"/>
<ellipse cx="210.9" cy="752.6" rx="2.2" ry="2.2" fill="none" stroke="#000" stroke-width="1.2"/>
<path d="M330 617.2 C329.1 618.5 323.7 627.4 321.3 630.6 C318.9 633.8 308.8 644.8 306.2 649.5 C303.6 654.2 297.4 673.7 295.5 677.9 C293.6 682.1 288.8 689.3 286.7 691.7 C284.6 694.1 275.9 700.8 274.7 701.8"/>
<path d="M274.7 701.8 L262.7 749.9 L250.4 798.7"/>
<path d="M306.2 651.4 C307.4 651.6 316.1 653.3 318.2 653.9 C320.3 654.5 326.1 656.8 327 657.1"/>
<path d="M327 657.1 L330.8 652.7 L347.8 630"/>
<path d="M355.9 630 C353.9 632.5 338 651.7 335.8 655.2 C333.6 658.7 334.4 664 333.9 665.3 C333.4 666.6 331.1 668.1 330.8 668.4"/>
<path d="M335.8 661.5 L364.1 649.5 L376.7 630"/>
<path d="M364.1 649.5 C365.7 649.4 377.3 649.5 379.9 648.9 C382.5 648.3 389 644.4 390 643.9"/>
<path d="M379.2 643.9 L390 632.5"/>
<path d="M303 675.3 C304.1 674.1 313.9 662 315.6 660.9 C317.3 659.8 321.9 660.9 323.2 661.5 C324.5 662.1 330.2 667.3 330.8 667.8"/>
<path d="M330.8 668.4 L298 678.5 L295.5 680.4"/>
<path d="M297 679 C297.6 679.9 300.2 685.2 301.8 686.7 C303.4 688.2 308.7 690.8 310.6 691.7 C312.5 692.6 317.1 693.7 318.2 694.2 C319.3 694.7 319.9 695.9 320.1 696.1"/>
<path d="M320.1 696.1 C320.1 697.1 320.5 709.5 320.7 710.6 C320.9 711.7 320.9 712.2 323.2 712.5 C325.5 712.8 353.7 714.8 355.9 715"/>
<path d="M355.9 715 L390 704.9"/>
<path d="M323.2 691.7 L390 672.2"/>
<path d="M365.4 654.6 L390 667.8"/>
<path d="M295.5 680.4 L293 705.6" stroke-width="2.4"/>
<path d="M277.9 702.4 C279.4 703.1 287.7 707.9 290.5 708.1 C293.3 708.3 298.9 705.3 301.8 703.7 C304.7 702.1 314 695.3 315.6 694.2"/>
<path d="M296.8 705.6 L279.1 749.9 L251.7 793.7"/>
<path d="M302.4 705.6 L290.5 749.9 L286.9 758.4"/>
<path d="M286.9 758.4 C286.1 760.4 282.5 775 279.4 778.5 C276.2 782 258.3 791.7 255.4 793.7 C252.5 795.7 250.9 798.2 250.4 798.7"/>
<path d="M303.3 705.5 C301.2 713.1 285 769.8 281.9 781.1 C278.8 792.4 274.3 813 271.8 818.8 C269.3 824.6 258.2 837 256.7 839"/>
<path d="M250.4 798.7 C250.8 800.5 253.8 812.3 254.2 816.3 C254.6 820.3 254.8 836.7 254.9 839"/>
<path d="M390 704.9 C390.4 704.4 394.1 700 394.5 698.3 C394.9 696.6 395.1 686.2 395.2 684.2 C395.3 682.2 395.4 675.4 395.9 674.3 C396.4 673.2 399.8 671.2 400.9 670.7 C402 670.2 408.7 668.9 409.4 668.7"/>
<path d="M427.8 670.7 L454.7 684.9" stroke-width="3"/>
<path d="M454.7 684.9 L460.4 692.7 L500.1 715.4 L510 721 L517 719.6"/>
<path d="M443.4 670 L500.1 697.6 L502.2 708.3 L510 709"/>
<path d="M500.1 697.6 L491.6 703.3 L454.7 684.9"/>
<path d="M502.2 708.6 L499.4 713.9 L501.5 716.8"/>
<path d="M458.3 675.7 L466 670"/>
<path d="M473.1 682.8 L490.2 670"/>
<path d="M510 774.2 L479.5 784.8 L480.9 801.8 L484.5 803.9 L503.6 804.6 L503.6 812"/>
<path d="M480.9 787.6 C481.8 788.5 486.1 794 488.7 795.4 C491.3 796.8 501.2 799.2 502.9 799.7"/>
<path d="M502.9 799.7 L503.6 804.6"/>
<path d="M586.5 680 L617.6 698.3"/>
<path d="M612 680 L629 689.8"/>
<path d="M639.6 682.8 L617.6 698.3 L566.6 737.3"/>
<path d="M566.6 737.3 C566.2 737.4 563.2 738.5 562.4 738.4 C561.5 738.3 558.5 736.8 558.1 736.6"/>
<path d="M558.1 736.6 L521.3 711.8"/>
<path d="M521.3 711.8 C520.9 712 518.1 713.1 517.7 713.9 C517.3 714.7 517.1 719 517 719.6"/>
<path d="M517 719.6 C520.3 721.7 545.7 737.9 549.6 740.9 C553.5 743.9 555.6 747.8 556 749.4 C556.4 751 554.8 755.4 553.9 756.5 C553 757.6 552.2 758.6 546.8 760.7 C541.4 762.8 504.7 776 500 777.7"/>
<path d="M500 777.7 L510 774.2"/>
<path d="M500 711.1 L505.7 709 L515.6 714.6 L514.9 723.9 L500 716.1"/>
<path d="M500 698 L502.8 708.3"/>
<ellipse cx="645.3" cy="695.5" rx="5.2" ry="2.9" fill="none" stroke="#000" stroke-width="1.6"/>
<ellipse cx="645" cy="696.2" rx="10.2" ry="6.2" fill="none" stroke="#000" stroke-width="1.6"/>
<path d="M636.1 691.3 C634.9 692.3 627.4 698 626.1 699.8 C624.8 701.6 624.5 705.5 624.7 706.8 C624.9 708.1 627.7 709.9 627.6 711.1 C627.5 712.3 624.3 715.6 624 716.8 C623.7 718 624.7 720.6 625.4 721 C626.1 721.4 629.8 720.4 630.4 720.3"/>
<path d="M648.8 676.4 L658.7 670"/>
<path d="M648.8 684.2 C649.5 684.8 653.9 689.8 655.9 689.8 C657.9 689.8 667.4 684.8 668.7 684.2"/>
<path d="M668.7 684.2 L667.2 675.7 L672 670"/>
<path d="M667.2 675.7 L675.7 682.8 L680 681.6"/>
<path d="M657.3 694.1 L680 683.5"/>
<path d="M655.9 696.9 L620.5 733.1 L556.7 780.5"/>
<path d="M623.5 730 L617.6 736.6" stroke-width="2.8"/>
<path d="M556.7 780.5 C556.5 781 555.1 787.1 553.9 787.6 C552.7 788.1 541.5 787.5 538.3 788.3 C535.1 789.1 507.9 798.9 505.7 799.7"/>
<path d="M670 705.8 L623.3 733.1"/>
<path d="M675 719.9 L566.6 790.5"/>
<path d="M644.6 762.8 L586.5 807.5"/>
<path d="M680 743 L633.2 786.2"/>
<path d="M633.9 786.9 L607 813" stroke-width="3.4"/>
<path d="M680 782 L668.7 810"/>
<path d="M556.7 780.5 C557.3 780.8 561.5 782.4 562.4 783.4 C563.2 784.4 564.8 789.5 565.2 790.5 C565.6 791.5 566.5 793.1 566.6 793.4"/>
<path d="M566.6 793.4 L583.6 810"/>
<ellipse cx="570.2" cy="762.8" rx="7" ry="4.4" fill="none" stroke="#000" stroke-width="1.6" transform="rotate(-12 570.2 762.8)"/>
<path d="M561.7 745.8 L580.8 757.2"/>
<path d="M552.4 762.8 L563.1 769.2"/>
<path d="M531.2 810 C533.3 808.3 543 799.4 546.8 797.6 C550.6 795.8 556.7 796.1 559.5 796.8 C562.3 797.5 566.7 801.4 568 803.2 C569.3 805 569.2 809.1 569.4 810"/>
<path d="M778.8 258.2 L778.8 371.5" stroke-width="2.4"/>
<path d="M778.8 377 L778.8 381.5" stroke-width="2.4"/>
<path d="M778.8 389 L778.8 569.8" stroke-width="2.4"/>
<path d="M680 428.3 L774.9 479.4"/>
<path d="M680 439.7 L774.9 492.1"/>
<path d="M680 448.9 L774.9 504.2"/>
<path d="M675 500.6 L742.3 540 L774.2 556.3"/>
<ellipse cx="682" cy="525.4" rx="6.4" ry="3.9" fill="none" stroke="#000" stroke-width="1.6"/>
<path d="M774.9 408.5 C773.8 409.5 764.9 417 764.2 418.4 C763.5 419.8 766.7 422.4 767.8 422.7 C768.9 423 774.2 421.4 774.9 421.3"/>
<path d="M787.6 400 L835.1 426.2 L850 432.5"/>
<path d="M823 400 L850 414.2 L852.8 417.7"/>
<path d="M840 429.8 L799.7 450.3 L811.7 521.9" stroke-width="2.1"/>
<path d="M895.3 401.4 L840 429.8" stroke-width="2.1"/>
<path d="M783.4 485.7 L803.2 499.2"/>
<path d="M783.4 499.9 L799 512"/>
<path d="M803.2 513.4 C802.5 513.2 798.5 511.4 797.6 512 C796.7 512.6 796.2 516.1 796.8 517.6 C797.4 519.1 799.8 522.3 801.8 523.3 C803.8 524.3 809.6 525.4 811.7 525.4 C813.8 525.4 816.4 524.3 817.4 523.3 C818.4 522.3 820 519.9 819.5 517.6 C819 515.3 814.6 507.8 813.9 506.3"/>
<path d="M799 512.5 L800.5 518" stroke-width="3"/>
<path d="M783.4 512 C783.5 512.8 783.3 517.2 784.1 519 C784.9 520.8 788.4 526.1 790.5 527.6 C792.6 529.1 799.2 531.1 801.8 531.8 C804.4 532.5 811.3 532.2 813.1 533.2 C814.9 534.2 816.9 539.2 817.4 540"/>
<path d="M783.4 524 L783.4 547.8"/>
<path d="M811.7 525.4 L825.9 529 L833 524.7 L850 536.8"/>
<path d="M817.4 526 L827.3 540"/>
<text transform="matrix(-1.94 -1.16 3.27 -1.46 868.5 456.5)" font-size="10" font-weight="bold" style="fill:#fff" stroke="#000" stroke-width="0.5">YAMAHA</text>
<path d="M840 409.9 L852.8 417.7"/>
<path d="M861.3 423.4 C862.5 424.1 871.9 430.1 875.4 431.9 C878.9 433.7 900.7 443.3 903.8 444.6 C906.9 445.9 911.6 447.3 912.3 447.5"/>
<path d="M912.3 447.5 L957.6 443.2 L984.6 443.2 L1020 473.7"/>
<path d="M845 432.6 L882.5 454.6"/>
<path d="M875.4 431.9 L882.5 454.6 L917.2 540"/>
<path d="M881.1 434 L935 540"/>
<path d="M1020 508.4 L990.2 540"/>
<path d="M840 529.7 L848.5 540"/>
<ellipse cx="779.1" cy="570.5" rx="9.3" ry="5.7" fill="none" stroke="#000" stroke-width="1.7"/>
<path d="M752.2 572.6 C752.8 573.7 754 577.8 756.5 579.7 C759 581.6 765.2 584.3 769.2 585.4 C773.2 586.5 779.1 587.3 783.4 586.8 C787.7 586.3 793.1 583.9 797.6 581.8 C802.1 579.7 810.8 574 813.1 572.6"/>
<path d="M774.2 555.6 C772.4 556.6 763.6 561.1 760.7 563.4 C757.8 565.7 753.5 571 752.2 572.6 C750.9 574.2 751 575 750.8 575.4"/>
<path d="M750.8 575.4 C750.7 578.8 750.6 596.9 750.1 600.9 C749.6 604.9 747.6 604.3 747.2 605.2 C746.8 606.1 746.2 606.3 746.8 607.6 C747.4 608.9 749.9 613.3 751.9 615.1 C753.9 616.9 758.5 619.7 761.9 620.8 C765.3 621.9 775.1 623 777.1 623.3"/>
<path d="M783.4 551.3 C784.7 552 790.5 555.2 793.3 556.3 C796.1 557.4 802 559.1 804.6 559.8 C807.2 560.5 811.4 560.4 813.1 561.3 C814.8 562.2 816.6 564.5 817.4 566.2 C818.2 567.9 818.8 572 818.8 574 C818.8 576 817.6 580.2 817.4 581.1"/>
<path d="M670 544.3 L749.4 589.6"/>
<path d="M670 614.5 L705.3 634.6"/>
<path d="M746.8 604.4 L705.3 634 L670 660.5"/>
<path d="M715.3 646.6 C717.1 644.9 734.6 631.1 736.8 629.6 C739 628.1 740.8 628.6 741.8 629 C742.8 629.4 748.8 633.2 749.3 634 C749.8 634.8 749.9 637.5 748.1 639 C746.3 640.5 730.3 650.5 727.9 651.6 C725.5 652.7 720.1 652.5 719.1 652.3 C718.1 652.1 715.6 650 715.3 649.5 C715 649 713.5 648.3 715.3 646.6Z"/>
<path d="M745.6 637.8 L726.7 651.7"/>
<path d="M820.2 540 C820.9 541.9 824.6 550.4 825.2 554.2 C825.8 558 825.5 564.7 824.5 568.3 C823.5 571.9 818.3 579.4 817.4 581.1"/>
<path d="M817.4 581.1 C815.9 583 806.2 595.8 802.2 600 C798.2 604.2 781 619.9 777.1 623.3 C773.2 626.7 766.4 632.1 763.2 634 C760.1 635.9 750.9 639.4 745.6 642.2 C740.3 645 717.1 658.3 710.3 662.3 C703.5 666.3 681.6 680 677.6 682.5 C673.6 685 670.8 686.5 670 686.9"/>
<path d="M763.2 634 L750.6 642.2" stroke-width="2.8"/>
<path d="M671.8 671.8 C672 671.1 672.2 666.8 673.8 665.5 C675.4 664.2 682.8 661.9 685.1 660.5 C687.4 659.1 692.9 654.3 693.9 653.5"/>
<path d="M693.9 653.5 L710.3 662.3"/>
<path d="M670 679.3 L675 683.1"/>
<path d="M763.2 634 C761.9 634.9 754 640.1 750.6 642.8 C747.2 645.4 734.7 656 729.2 660.5 C723.7 665 701.1 683.7 695.2 688.2 C689.3 692.7 672.5 704 670 705.8"/>
<path d="M834.4 540 C835.1 541.7 839.5 550.1 840 554.2 C840.5 558.3 839.8 571.1 838.7 575.4 C837.6 579.7 832.3 588 830.2 591 C828.1 594 825.7 596.9 821.1 601.3 C816.5 605.7 798.2 622.4 790.9 629 C783.6 635.6 766.4 651 758.2 657.9 C750 664.8 728.6 681.7 720.4 688.2 C712.2 694.7 692.9 709.7 687.6 713.4 C682.3 717.1 676.5 719.1 675 719.9"/>
<path d="M850 596.7 C848 598.5 835.4 609.8 830 614.5 C824.6 619.2 803.1 637.9 795.9 644.1 C788.7 650.3 765.5 670.5 758.2 676.8 C750.9 683.1 727.9 702.8 722.9 707.1 C717.9 711.4 709.3 718.6 707.8 719.9"/>
<path d="M960.1 497.1 L960.1 890" stroke-width="2" stroke-dasharray="4.9 5.4" stroke-linecap="butt"/>
<path d="M1020 508.4 C1017.2 511.6 997.6 533.7 991.6 540 C985.6 546.3 968.1 563.8 960.4 571.2 C952.7 578.6 925.5 602.8 915 613.7 C904.5 624.6 861.5 673.4 855.5 680"/>
<path d="M950 622.8 L915 652 L873.9 680"/>
<path d="M1010 670.4 L995.1 680"/>
<path d="M917.2 540 L932 576.8 L932.7 581.8 L916.4 596.7 L915 603.1"/>
<path d="M935 540 C936.3 542.4 946.2 561 947.6 564.1 C949 567.2 949 570.1 949 571.2 C949 572.3 947.7 575 947.6 575.4"/>
<path d="M947.6 575.4 L920.7 602.4 L915 603.8 L890.9 578.3"/>
<path d="M892 578.5 L916.4 596.7" stroke-width="2.6"/>
<path d="M935.6 578.3 L944.8 573.3"/>
<path d="M848.4 540 C848.6 540.5 851 547.6 852 547.8 C853 548 862.7 543.1 864 542.8 C865.3 542.5 870.6 542.8 871.1 542.8"/>
<path d="M871.1 542.8 L903.7 562.7"/>
<path d="M872.5 543.6 L898 558.4" stroke-width="2.8"/>
<path d="M903.7 562.7 C903.9 563.1 905.6 565.2 905.1 566.2 C904.6 567.2 901.5 570 899.4 571.2 C897.3 572.4 890.5 575.6 886.7 576.8 C882.9 578 869.1 580.6 866.8 581.1"/>
<path d="M866.8 581.1 C866.2 580.5 861.4 577 860.5 575.4 C859.6 573.8 858.5 566.5 858.3 565.5"/>
<path d="M858.3 565.5 L839.9 552.8 L835 544.3 L830 540"/>
<path d="M835 544.3 L844.2 540"/>
<path d="M856.2 563.4 L875.4 549.2 L896.6 561.3 L871.1 580.4"/>
<path d="M875.4 549.2 L903.7 563.4"/>
<path d="M839.9 552.8 C840 554.6 840.9 565.2 840.6 568.3 C840.3 571.4 838.3 577.2 837.1 579.7 C835.9 582.2 830.8 588.4 830 589.6"/>
<path d="M858.3 565.5 C858.5 567.2 860.1 576.9 859.8 579.7 C859.5 582.5 857.3 587 855.5 589.6 C853.7 592.2 847.2 599.4 844.2 602.4 C841.2 605.4 831.7 613.6 830 615.1"/>
<path d="M845.6 606.6 L860.5 659 L863.3 661.2 L867.6 659 L900.9 625 L900.9 616.5 L888.1 585.4 L885.3 582.5 L884.6 586.8 L890.2 622.9 L873.9 638.5 L848.4 604.5"/>
<path d="M873.9 639.2 L863.3 657.6"/>
<path d="M892.4 622.9 L898 622.9"/>
<path d="M885.3 582.5 L890.9 578.3"/>
<path d="M950 445.2 L985.3 443.9 L1094.8 545.9"/>
<path d="M1038.2 491.8 L1020 508.4"/>
<path d="M950 622.8 C960.9 615.6 1046.7 558.6 1058.5 551 C1070.3 543.4 1064.8 547.7 1068.4 547.2 C1072 546.7 1089 545.5 1094.8 545.9 C1100.6 546.3 1118.6 549.2 1126.3 551 C1134 552.8 1164.1 560.1 1171.7 563.6 C1179.3 567.1 1195.6 580.7 1201.9 586.2 C1208.2 591.7 1230.2 613.7 1234.6 619 C1239 624.3 1244.5 635.8 1246 639.1 C1247.5 642.4 1249.3 650.4 1249.7 651.7"/>
<path d="M1068.4 548.5 C1072.2 549.5 1091.4 554.4 1101.1 557.3 C1110.8 560.2 1143.9 570 1151.5 573.7 C1159.1 577.4 1163.8 585.1 1166.6 588.8 C1169.4 592.5 1174.4 603.2 1175.4 605.1"/>
<path d="M1073.4 670 C1078.1 667 1162.8 613.3 1167.9 610.2 C1173 607.1 1174.7 607.8 1175.4 607.7 C1176.1 607.6 1180.8 608.3 1181.7 608.9 C1182.6 609.5 1192.5 618.5 1193.1 619"/>
<path d="M1193.1 619 L1193.1 634.1"/>
<path d="M1193.1 619 L1188 620.3 L1111.2 670 L1099.9 676.4"/>
<path d="M1194.3 617.7 C1197.1 617.8 1217.8 618.5 1222 619 C1226.2 619.5 1234.5 622.4 1235.9 622.8"/>
<path d="M1196.9 635.4 C1199.7 635.4 1220.1 635 1224.6 635.4 C1229.1 635.8 1240.4 638.7 1242.2 639.1"/>
<path d="M1201.9 644.2 C1203.2 644.3 1225 645.1 1227.1 645.4 C1229.2 645.7 1243.6 650.1 1244.7 650.5 C1245.8 650.9 1248.2 653.1 1248.5 653.2 C1248.8 653.3 1249.6 651.8 1249.7 651.7"/>
<path d="M1059.6 614 L1094.8 592.5 L1131.4 612.7 L1096.1 635.4Z"/>
<path d="M1065.9 616.5 L1095.6 599.3 L1123.8 615.2"/>
<ellipse cx="1095.6" cy="617.2" rx="3.4" ry="2.4" fill="none" stroke="#000" stroke-width="1.4"/>
<path d="M1118.3 597.6 L1149 578.2"/>
<path d="M1072.2 629.1 L1010.5 670 L950 710.5"/>
<path d="M1095.6 620.3 L1095.6 748.2" stroke-dasharray="4.9 5.4" stroke-linecap="butt"/>
<path d="M1095.6 748.2 L1095.6 802.4" stroke-width="2.1"/>
<path d="M1074.7 668.9 L1072.7 673.9 L1078.5 700.4"/>
<path d="M1099.9 676.4 L1098.6 681.5 L1102.4 696.6 L1098.6 701.6"/>
<path d="M1075.9 672.7 L1094.8 679.7 L1099.9 676.4"/>
<path d="M1082.2 698.4 L1101.1 698.4"/>
<path d="M707.8 719.9 L680 743"/>
<path d="M633.9 786.9 C634.7 786.1 635.8 784.6 640 780.8 C644.2 777 657.8 762.9 665.2 758.2 C672.6 753.5 693.1 743.3 695.4 745.6 C697.7 747.9 686.5 767.1 682.8 775.8 C679.1 784.5 671.4 801 667.7 811.1 C664 821.2 658.1 840.7 655.1 851.4 C652.1 862.1 647.2 883.1 645 891.7 C642.8 900.3 640.1 908.9 638.5 916 C636.9 923.1 633.7 941.1 633 945"/>
<path d="M855.5 680 L816.3 721.6"/>
<path d="M873.9 680 C865.4 687.1 813.8 728.7 801.2 740.5 C788.6 752.3 772.9 772.6 765.9 780.8 C758.9 789 747 802.3 740.8 811.1 C734.6 819.9 716.2 851.1 713 856.4"/>
<path d="M950 710.5 C943.2 714.9 904.6 738.7 891.9 748.1 C879.2 757.5 853.3 780.3 841.5 790.9 C829.7 801.5 801.4 828.5 791.1 838.8 C780.8 849.1 759.3 872.1 753.3 879.1 C747.3 886.1 741.1 896.9 739.5 899.2"/>
<path d="M1078.5 700.4 C1065.7 710.4 972.1 782.2 950 800 C927.9 817.8 873 864.8 857.5 878.7 C842 892.6 804.6 928.2 794.5 938.6 C784.4 949 761.1 977.7 756.7 982.7 C752.3 987.7 751 988.4 750.4 989"/>
<path d="M1098.6 701.6 C1088.1 711.3 1011.2 782.6 993.4 798.7 C975.6 814.8 934.1 851.2 920.5 863 C906.9 874.8 868.5 908 857.5 916.5 C846.5 925 819.7 942.3 810.2 948 C800.8 953.7 768.2 970.1 763 973.2 C757.8 976.4 758.8 978.9 758.3 979.5"/>
<path d="M1193.1 634.1 C1192.7 634.7 1197.6 632.3 1189 640 C1180.4 647.7 1126.4 692.5 1106.8 710.9 C1087.2 729.3 1007.9 809.9 993.4 824.2 C978.9 838.5 967.1 847.8 961.4 853.5 C955.7 859.2 940.8 875.9 936.7 880.9 C932.6 885.9 925.3 897.2 920.5 903.9 C915.7 910.6 895.9 939.5 889 948 C882.1 956.5 855.6 983.6 851.2 989 C846.8 994.4 846.6 996.6 844.9 1001.6 C843.2 1006.6 835 1035.6 833.9 1039.4"/>
<path d="M1201.9 644.2 C1192.4 652.9 1124.8 713.6 1106.8 730.7 C1088.8 747.9 1034.5 802.1 1021.7 815.7 C1008.9 829.3 985.2 859.5 979.2 866.8 C973.2 874 964.8 883.9 961.4 888.2 C958 892.5 949.3 904.8 945.2 909.8 C941.1 914.8 925.5 931.9 920.5 938.6 C915.5 945.3 899.7 970.1 895.3 976.4 C890.9 982.7 879.2 997.5 876.4 1001.6 C873.6 1005.7 867.9 1015.7 866.9 1017.3"/>
<path d="M682.6 848 L734.3 909.7 L705.3 1013 L651.1 951.3Z"/>
<path d="M729.7 914.8 L683.4 858.1 L657.4 948.8 L704 1005.4"/>
<ellipse cx="683.4" cy="862.6" rx="2.3" ry="2.6" fill="none" stroke="#000" stroke-width="1.2"/>
<ellipse cx="729.7" cy="917.3" rx="2.3" ry="2.6" fill="none" stroke="#000" stroke-width="1.2"/>
<ellipse cx="659.2" cy="950.8" rx="2.3" ry="2.6" fill="none" stroke="#000" stroke-width="1.2"/>
<ellipse cx="705.3" cy="1002.9" rx="2.3" ry="2.6" fill="none" stroke="#000" stroke-width="1.2"/>
<path d="M627.2 902.2 L680.1 874.5" stroke-width="1.8" stroke-dasharray="5 5.2" stroke-linecap="butt"/>
<path d="M680.1 875.7 L680.1 1033.7" stroke-dasharray="4.9 5.4" stroke-linecap="butt"/>
<path d="M680.2 1050 L680.2 1150.5" stroke-width="2.2"/>
<path d="M680.2 1156.6 L680.2 1162.8" stroke-width="2.2"/>
<path d="M680.2 1167.9 L680.2 1261 L687.9 1255.9" stroke-width="2.2"/>
<path d="M694 1252.8 L760.5 1213.9" stroke-width="2"/>
<path d="M758.2 991.6 L794.7 997.9"/>
<path d="M804.8 999.9 L841.7 996.4"/>
<path d="M796.3 1009.7 L782.5 1048.3"/>
<path d="M541.6 981.5 C545 980.8 563.6 977.8 570.5 975.2 C577.4 972.6 594.9 961.1 600.8 958.8 C606.7 956.5 616.6 954.9 620.9 955.1 C625.2 955.3 633.3 958.2 637.6 960.6 C641.9 963 653.1 970.4 657.8 975.7 C662.5 981 673.5 998.8 677.9 1005.9 C682.3 1013 687.1 1028.3 695.6 1036.2 C704.1 1044.1 743.1 1069.2 751 1074 C758.9 1078.8 760.1 1077.7 763.6 1077.7 C767.1 1077.7 773 1078.3 781.2 1074 C789.4 1069.7 824 1048 834.1 1041.2 C844.2 1034.4 864.1 1018.9 868.1 1016"/>
<path d="M564.2 982.8 C567.9 981.5 589.1 973.2 595.7 971.4 C602.3 969.6 615.7 967.1 620.9 967.6 C626.1 968.1 635.6 972.7 640.2 975.7 C644.8 978.7 654.1 986.6 660.3 993.4 C666.5 1000.2 689.2 1029 693 1033.7"/>
<path d="M563 1005.4 C566.8 1004.1 594.5 994.2 600.8 992.8 C607.1 991.4 622 991.3 625.9 991.6 C629.8 991.9 637 993.5 640.2 995.9 C643.4 998.3 652.3 1010 657.8 1016 C663.3 1022 684.5 1047.6 695.6 1056.3 C706.7 1065 760 1098.2 768.6 1102.9 C777.2 1107.6 778.4 1103.8 781.2 1102.9 C784 1102 788.2 1099.3 796.3 1094.1 C804.4 1088.9 855.2 1055.6 861.8 1051.3"/>
<path d="M861.8 1051.3 L868.1 1016"/>
<path d="M772.4 1084 L769.9 1099.1"/>
<ellipse cx="753.5" cy="1087.1" rx="2.6" ry="3" fill="none" stroke="#000" stroke-width="1.3"/>
<ellipse cx="854.3" cy="1043" rx="3" ry="3.2" fill="none" stroke="#000" stroke-width="1.3"/>
<path d="M500 800.2 C500.4 802.7 501.8 821 503.8 825.3 C505.8 829.6 518.6 841.2 520.2 843"/>
<path d="M520.2 843 L529 974"/>
<path d="M529 974 C529.9 974.4 537.4 976.6 537.8 977.7 C538.2 978.8 533.2 984.5 532.7 985.3"/>
<path d="M532.7 985.3 L534.6 1012 L537.8 1015.2 L549.3 1012.7 L549.3 990.9 L560.2 986.4 L561.5 1003.7 L563.4 1006.3"/>
<path d="M500 800.2 L537.8 788.8 L554.2 787.6 L557.9 781.3 L563 782.5 L564.2 792.6 L580.6 806.4 L581.9 812.7 L545.3 980.3"/>
<path d="M507.6 827.9 C510.9 824.9 527 809.4 532.7 805.2 C538.4 801 546.4 797.4 550.4 796.4 C554.4 795.4 560.5 796.1 563 797.6 C565.5 799.1 568.8 805.3 569.3 807.7 C569.8 810.1 567.1 814.3 566.8 815.3"/>
<path d="M566.8 815.3 L534 972.7"/>
<path d="M573 811.5 L540.3 976.5"/>
<path d="M507.6 827.9 C509.9 828.9 519.5 836.1 525.2 835.4 C530.9 834.7 544.5 826.5 550.4 822.8 C556.3 819.1 566.8 809.7 569.3 807.7"/>
<path d="M564.2 792.6 L583.6 810"/>
<path d="M585.6 806.4 L625.9 780 L644.6 762.8"/>
<path d="M551.2 1003.7 L551.2 994.1 L556.4 991.5 L557.6 1000.5" stroke-width="1.8"/>
<path d="M536.5 987.7 C536.8 988.1 538.7 991.2 539.7 991.5 C540.7 991.8 545.5 991 546.1 990.9"/>
<path d="M554.4 1001.8 L558.3 1043.4" stroke-width="2"/>
<path d="M549.3 1050.5 L563.4 1044.7 L567.9 1046.6 L568.5 1065.2 L562.8 1067.1 L556.4 1071.6 L551.9 1068.4 L551.2 1055.6Z" fill="#fff" stroke="#000" stroke-width="1.8"/>
<path d="M549.8 1051.5 L554.6 1049.8 L556 1070.6 L552.2 1068 Z" fill="#000" stroke="#000" stroke-width="1.2"/>
<ellipse cx="561.6" cy="1059.2" rx="4.2" ry="5" fill="none" stroke="#000" stroke-width="1.6"/>
<ellipse cx="561.8" cy="1059.2" rx="1.6" ry="2.2" fill="none" stroke="#000" stroke-width="1.2"/>
<path d="M550.5 1053 L564 1047.4" stroke-width="1.6"/>
<path d="M706.7 169 L726.9 288.4" stroke-width="2.1"/>
<path d="M728 294.5 L728.4 298.5" stroke-width="2.1"/>
<path d="M871.7 265.7 L891.9 384.1" stroke-width="2.1"/>
<path d="M893 390.5 L893.4 394.5" stroke-width="2.1"/>
<path d="M894.4 400.5 L895.3 401.4" stroke-width="2.1"/>
<path d="M728.2 306.6 L640 351.4 L634.7 353.4 L646 420" stroke-width="2"/>
<path d="M728.2 307.3 L773.5 327.4"/>
<path d="M783.6 331.2 L805 340 L826.4 370.3 L826.4 401.7"/>
<path d="M781 390 L806.2 394.2"/>
<path d="M640 379 L776 395.4"/>
<path d="M640 379 L643.8 420"/>
<path d="M803.7 348.8 C801.8 351 788.9 364.2 787.4 367.7 C785.9 371.2 790.7 377.8 791.1 379.1"/>
<path d="M791.1 379.1 L826.4 401.7 L851.6 415.6 L861.3 423.4"/>
<path d="M783.6 396.7 L816.4 399.7"/>
<path d="M783.6 396.7 L840 427"/>
<path d="M506.2 369.4 C506.2 369.3 505.6 367.8 507 367.2 C508.4 366.6 559 347.6 560.4 347.1"/>
<path d="M560.4 347.1 L595.7 352.6"/>
<path d="M604.5 355.1 L660 365.2 L776 389.1"/>
<path d="M506.4 369.6 L556.6 395.4"/>
<path d="M556.6 395.4 L573 394.2"/>
<path d="M560.4 347.6 L570.5 367.7"/>
<path d="M544 382.8 L570.5 371.5 L595.7 374"/>
<path d="M604.5 375.3 L634.7 379.1"/>
<path d="M642.3 379.1 L660 381.6"/>
<path d="M544 382.8 L573 394.2 L571.7 399.2 L498.7 399.7"/>
<path d="M634.7 353.4 L660 341.3"/>
<path d="M421.9 406.2 C421.9 406.2 420.7 405.7 422.2 405 C423.7 404.3 475.8 379.8 477.3 379.1"/>
<path d="M477.3 379.1 L501.2 381.6"/>
<path d="M508 383 L556.6 395.4"/>
<path d="M483.6 384.1 L498.7 395.4"/>
<path d="M476 406.8 L498.7 399.7"/>
<path d="M476 406.8 L501.2 420 L506 422"/>
<path d="M571.7 405.5 C572.8 404.1 577.3 397.2 580 395 C582.7 392.8 590.3 389.9 591.9 389.1"/>
<path d="M604.5 389.1 L639.7 411.8"/>
<path d="M604.5 393 L629.7 405.5"/>
<path d="M960.1 893 L960.1 974.5" stroke-width="2.2"/>
<path d="M960.1 980.8 L960.1 989.6" stroke-width="2.2"/>
<path d="M960.1 995.9 L960.1 1066" stroke-width="2.2"/>
<path d="M960.1 1069.5 L960.1 1076" stroke-width="2.2"/>
<path d="M960.1 1085 L960.1 1087.6" stroke-width="2.2"/>
<path d="M861.4 1128.1 L860.2 1121.8 L896.7 1096.6 L905.5 1085.3 L955.9 1055.1"/>
<path d="M964.7 1051.3 L984.8 1042.5 L987.5 1043.3 L1018.8 1074 L1046.5 1096.6 L1044 1099.1 L1036.5 1094.1"/>
<path d="M1018.8 1074 L939.5 1145.7" stroke-width="2.6"/>
<path d="M1013.8 1099.1 L960.9 1155.8 L953.3 1155.8 L939.5 1147 L930.7 1162.1 L923.1 1162.6 L861.4 1128.1"/>
<path d="M896.7 1096.6 L923.1 1162.1"/>
<path d="M905.5 1085.3 L938.2 1145.7"/>
<path d="M1013.8 1099.1 L1016.3 1096.6 L1031.4 1084 L1036.5 1094.1 L1016.3 1096.6"/>
<path d="M867.7 1014.8 L862.7 1051.3"/>
<path d="M754.4 1164.8 C754.6 1164.8 754.7 1163.8 756.5 1164.3 C758.3 1164.8 769.5 1168.3 772.8 1169.9 C776.1 1171.5 787.1 1178.6 789.2 1180.2 C791.4 1181.8 793.8 1185.2 794.3 1186.3 C794.8 1187.4 795.2 1188.4 794.3 1191.4 C793.4 1194.4 786 1213.5 785.1 1216"/>
<path d="M785.1 1216 L773.8 1265.1 L770.8 1266.1 L746.2 1257.9 L740.1 1252.8 L740.1 1230.3"/>
<path d="M754.4 1164.8 C754.1 1165.4 752.1 1167.6 751.3 1170.9 C750.5 1174.2 747 1194.6 746.6 1197.6 C746.2 1200.6 747.1 1200.3 747.2 1200.6"/>
<path d="M747.2 1200.6 L767.7 1210.9" stroke-width="2.6"/>
<path d="M741.1 1219 C741.4 1217.4 743.3 1204.4 744.2 1202.7 C745.1 1201 749.8 1201.7 750.4 1201.6"/>
<ellipse cx="769.1" cy="1211.3" rx="2.3" ry="2.3" fill="none" stroke="#000" stroke-width="1.3"/>
<path d="M64.6 1397.1 L95.8 1348.6 L103.6 1352.9 L102.8 1366.8" stroke-width="2.4"/>
<path d="M102.8 1366.8 L157.3 1337.3 L157.3 1375.4 L102.8 1405.7 L102.8 1419.6 L64.6 1397.1" stroke-width="2.4"/>
<path d="M103.6 1357.2 L148.7 1333 L157.3 1337.3" stroke-width="2.4"/>
<path d="M73.3 1400.5 L101.9 1354.6" stroke-width="1.5"/>
<path d="M104.5 1367.6 L155.6 1339.9" stroke-width="1.5"/>
<text transform="matrix(2.25 -1.22 -0.44 3.3 100.4 1402.3)" font-size="10" font-weight="bold" stroke="#000" stroke-width="0.38">FWD</text>
</g>
<g>
<text x="195.1" y="256.2" font-size="26.9" fill="#000">yamparts</text>
<text x="695.1" y="256.2" font-size="26.9" fill="#000">yamparts</text>
<text x="195.1" y="756.2" font-size="26.9" fill="#000">yamparts</text>
<text x="695.1" y="756.2" font-size="26.9" fill="#000">yamparts</text>
<text x="195.1" y="1256.2" font-size="26.9" fill="#000">yamparts</text>
<text x="695.1" y="1256.2" font-size="26.9" fill="#000">yamparts</text>
</g>
</svg>
</body></html>
